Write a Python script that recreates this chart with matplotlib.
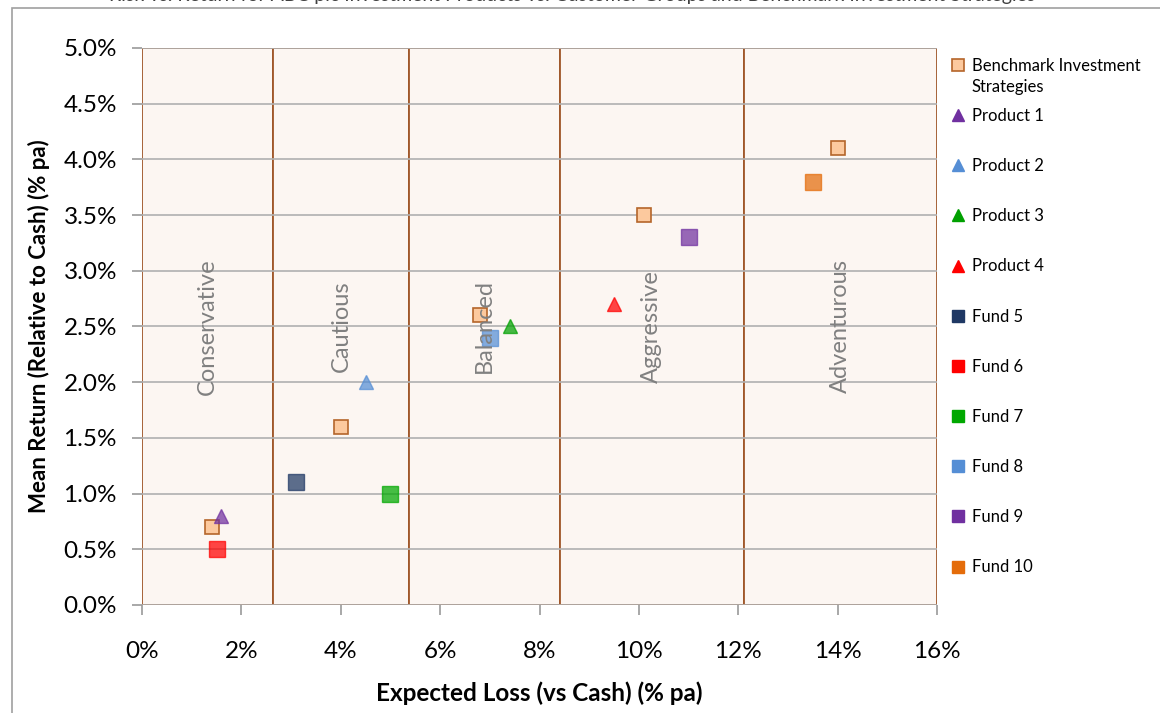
import numpy as np
import matplotlib.pyplot as plt
from matplotlib.patches import Rectangle
from matplotlib.lines import Line2D

plt.rcParams['font.family'] = ['Lato', 'DejaVu Sans']

# customer group bands (expected loss, % pa)
band_names = ["Conservative", "Cautious", "Balanced", "Aggressive", "Adventurous"]
band_edges = [0.0, 2.64, 5.37, 8.41, 12.11, 16.0]

# benchmark investment strategies
bench_x = [1.4, 4.0, 6.8, 10.1, 14.0]
bench_y = [0.7, 1.6, 2.6, 3.5, 4.1]

# products / funds
names = ["Product 1", "Product 2", "Product 3", "Product 4",
         "Fund 5", "Fund 6", "Fund 7", "Fund 8", "Fund 9", "Fund 10"]
loss = [1.6, 4.5, 7.4, 9.5, 3.1, 1.5, 5.0, 7.0, 11.0, 13.5]
ret = [0.8, 2.0, 2.5, 2.7, 1.1, 0.5, 1.0, 2.4, 3.3, 3.8]
markers = ["^", "^", "^", "^", "s", "s", "s", "s", "s", "s"]
colors = ["#7030a0", "#558ed5", "#00a000", "#ff0000", "#1f3864",
          "#ff0000", "#00a800", "#558ed5", "#7030a0", "#e46c0a"]

fig = plt.figure(figsize=(11.6, 7.13), dpi=100)
ax = fig.add_axes([0.1224, 0.1515, 0.6854, 0.7812])

brown = "#a0572a"
for i, nm in enumerate(band_names):
    x0, x1 = band_edges[i], band_edges[i + 1]
    ax.add_patch(Rectangle((x0, 0), x1 - x0, 5, facecolor="#fcf6f2",
                           edgecolor=brown, lw=1.3, zorder=0))
    ax.text((x0 + x1) / 2, 2.5, nm, rotation=90, ha="center", va="center",
            fontsize=17, color="#808080", zorder=4)

ax.set_xlim(0, 16)
ax.set_ylim(0, 5)
ax.set_xticks(np.arange(0, 17, 2))
ax.set_xticklabels([f"{v}%" for v in range(0, 17, 2)])
ax.set_yticks(np.arange(0, 5.01, 0.5))
ax.set_yticklabels([f"{v:.1f}%" for v in np.arange(0, 5.01, 0.5)])
ax.grid(axis="y", color="#b0b0b0", lw=1.2, zorder=1)
ax.set_axisbelow(False)
for s in ax.spines.values():
    s.set_visible(False)
ax.tick_params(axis="both", length=7, width=1.2, color="#999999",
               labelsize=17.5, pad=19)
ax.tick_params(axis="y", pad=11)

ax.set_xlabel("Expected Loss (vs Cash) (% pa)", fontsize=17.5, fontweight="bold",
              labelpad=14)
ax.set_ylabel("Mean Return (Relative to Cash) (% pa)", fontsize=16,
              fontweight="bold", labelpad=10)

ax.plot(bench_x, bench_y, "s", ms=9.5, mfc="#fcc99e", mec="#b5652a", mew=1.2,
        ls="none", zorder=3)
for x, y, m, c in zip(loss, ret, markers, colors):
    ms = 11 if m == "s" else 10
    ax.plot([x], [y], m, ms=ms, color=c, alpha=0.72, mec=c, ls="none", zorder=3)

handles = [Line2D([], [], marker="s", ls="none", ms=8, mfc="#fcc99e",
                  mec="#b5652a", mew=1.2)]
for m, c in zip(markers, colors):
    handles.append(Line2D([], [], marker=m, ls="none", ms=8, color=c))
labels = ["Benchmark Investment"] + names
leg = fig.legend(handles, labels, loc="upper left",
                 bbox_to_anchor=(0.807, 0.94), frameon=False, fontsize=12,
                 labelspacing=2.05, handlelength=0.8, handletextpad=0.45)

# wrapped second line of the first legend label
fig.canvas.draw()
t0 = leg.get_texts()[0]
bb = t0.get_window_extent().transformed(fig.transFigure.inverted())
fig.text(bb.x0, bb.y0 - 0.008, "Strategies", fontsize=12, ha="left", va="top")

# outer chart frame and clipped title
fig.add_artist(Rectangle((12 / 1160, -0.1), 1.2, 1 - 8 / 713 + 0.1,
                         transform=fig.transFigure, fill=False,
                         edgecolor="#a0a0a0", lw=1.2))
fig.text(1035 / 1160, 0.999, "Risk vs. Return for ABC plc Investment Products "
         "vs. Customer Groups and Benchmark Investment Strategies",
         ha="right", va="baseline", fontsize=14, color="#404040")

fig.savefig("out.png", dpi=100)
